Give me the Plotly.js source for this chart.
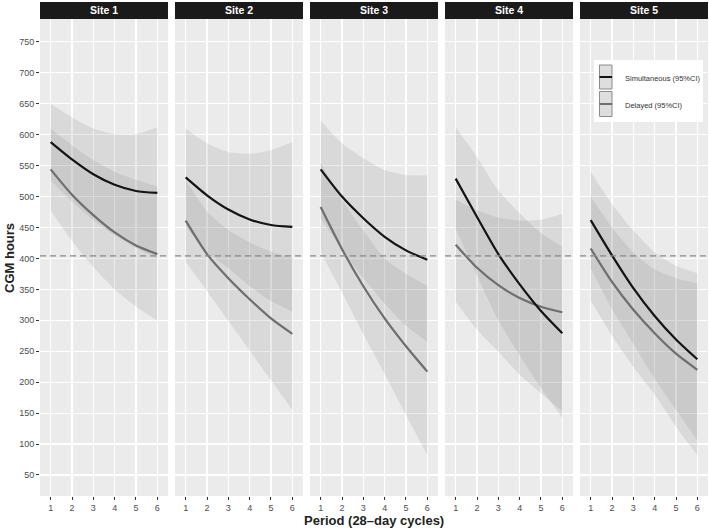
<!DOCTYPE html>
<html>
<head>
<meta charset="utf-8">
<script src="https://cdn.plot.ly/plotly-3.0.1.min.js"></script>
<style>
  html, body { margin: 0; padding: 0; background: #fff; }
  #plotDiv { width: 709px; height: 530px; }
</style>
</head>
<body>
<div id="plotDiv"></div>
<script>
// periodos y sitios
var periods = [1, 2, 3, 4, 5, 6];
var sites = ['Site 1', 'Site 2', 'Site 3', 'Site 4', 'Site 5'];
var yTicks = [50, 100, 150, 200, 250, 300, 350, 400, 450, 500, 550, 600, 650, 700, 750];
var threshold = 404;

// Simultaneous: media y banda 95%CI (una fila por sitio)
var simMean = [
  [588, 560, 536, 519, 509, 506],
  [531, 502, 479, 463, 454, 451],
  [544, 500, 465, 435, 413, 398],
  [529, 467, 407, 358, 315, 279],
  [462, 405, 352, 307, 269, 237]
];
var simUpper = [
  [650, 628, 610, 601, 601, 612],
  [610, 586, 572, 569, 575, 588],
  [623, 586, 562, 543, 535, 534],
  [612, 564, 510, 473, 441, 419],
  [540, 488, 445, 410, 388, 376]
];
var simLower = [
  [526, 492, 462, 437, 417, 400],
  [452, 410, 384, 355, 331, 314],
  [465, 414, 368, 327, 291, 265],
  [448, 372, 300, 243, 190, 142],
  [384, 318, 262, 205, 155, 106]
];

// Delayed: media y banda 95%CI
var delMean = [
  [544, 503, 470, 442, 421, 407],
  [461, 407, 368, 334, 303, 278],
  [483, 415, 355, 303, 258, 217],
  [422, 385, 357, 336, 322, 313],
  [416, 362, 317, 279, 246, 220]
];
var delUpper = [
  [610, 583, 559, 540, 527, 516],
  [527, 476, 446, 426, 411, 401],
  [555, 495, 445, 400, 375, 356],
  [495, 478, 466, 461, 463, 472],
  [500, 450, 410, 382, 368, 360]
];
var delLower = [
  [478, 428, 386, 350, 322, 300],
  [395, 347, 299, 251, 203, 155],
  [410, 345, 278, 213, 147, 82],
  [330, 285, 249, 212, 182, 153],
  [332, 275, 225, 180, 128, 82]
];

var bandFill = 'rgba(110,110,110,0.14)';
var simColor = '#141414';
var delColor = '#6e6e6e';

function px2x(p) { return (p - 40) / 668; }
function px2y(p) { return (496 - p) / 477; }

var data = [];
var layout = {
  width: 709, height: 530,
  margin: { l: 40, r: 1, t: 19, b: 34 },
  paper_bgcolor: '#ffffff',
  plot_bgcolor: '#EBEBEB',
  showlegend: false,
  font: { family: 'Liberation Sans, Arial, sans-serif', size: 9, color: '#4d4d4d' },
  shapes: [],
  annotations: []
};

var w = 0.1916, gap = (1 - 5 * w) / 4;

for (let i = 0; i < sites.length; i++) {
  var sfx = i === 0 ? '' : String(i + 1);
  var xa = 'x' + sfx, ya = 'y' + sfx;
  var line = { shape: 'spline', smoothing: 0.7, width: 0 };

  // bandas
  data.push({ x: periods, y: simLower[i], xaxis: xa, yaxis: ya, mode: 'lines', line: line, hoverinfo: 'skip' });
  data.push({ x: periods, y: simUpper[i], xaxis: xa, yaxis: ya, mode: 'lines', line: line, fill: 'tonexty', fillcolor: bandFill, hoverinfo: 'skip' });
  data.push({ x: periods, y: delLower[i], xaxis: xa, yaxis: ya, mode: 'lines', line: line, hoverinfo: 'skip' });
  data.push({ x: periods, y: delUpper[i], xaxis: xa, yaxis: ya, mode: 'lines', line: line, fill: 'tonexty', fillcolor: bandFill, hoverinfo: 'skip' });

  // medias
  data.push({ x: periods, y: delMean[i], xaxis: xa, yaxis: ya, mode: 'lines', name: 'Delayed (95%CI)',
    line: { shape: 'spline', smoothing: 0.7, width: 2.2, color: delColor } });
  data.push({ x: periods, y: simMean[i], xaxis: xa, yaxis: ya, mode: 'lines', name: 'Simultaneous (95%CI)',
    line: { shape: 'spline', smoothing: 0.7, width: 2.2, color: simColor } });

  var d0 = i * (w + gap), d1 = d0 + w;
  if (i === sites.length - 1) d1 = 1;

  layout['xaxis' + sfx] = {
    domain: [d0, d1], anchor: ya, range: [0.5, 6.5],
    tickvals: periods, ticks: 'outside', ticklen: 3, tickcolor: '#333', tickwidth: 1,
    showgrid: true, gridcolor: '#ffffff', gridwidth: 1.1,
    zeroline: false, showline: false, fixedrange: true,
    tickfont: { size: 9, color: '#4d4d4d' }
  };
  layout['yaxis' + sfx] = {
    anchor: xa, range: [16, 787],
    tickvals: yTicks, ticks: i === 0 ? 'outside' : '', ticklen: 3, tickcolor: '#333', tickwidth: 1,
    showticklabels: i === 0,
    showgrid: true, gridcolor: '#ffffff', gridwidth: 1.1,
    zeroline: false, showline: false, fixedrange: true,
    tickfont: { size: 9, color: '#4d4d4d' }
  };
  if (i > 0) layout['yaxis' + sfx].matches = 'y';

  // linea de referencia
  layout.shapes.push({
    type: 'line', xref: xa + ' domain', yref: ya, x0: 0, x1: 1, y0: threshold, y1: threshold,
    line: { color: '#8a8a8a', width: 1.3, dash: '6px,4px' }
  });

  // franja del titulo
  layout.shapes.push({
    type: 'rect', xref: 'paper', yref: 'paper', x0: d0, x1: d1, y0: 1, y1: 1 + 17 / 477,
    fillcolor: '#1a1a1a', line: { width: 0 }
  });
  layout.annotations.push({
    text: '<b>' + sites[i] + '</b>', xref: 'paper', yref: 'paper',
    x: (d0 + d1) / 2, y: 1 + 8.5 / 477, xanchor: 'center', yanchor: 'middle', showarrow: false,
    font: { size: 10.5, color: '#ffffff' }
  });
}

// leyenda manual
layout.shapes.push({ type: 'rect', xref: 'paper', yref: 'paper', x0: px2x(594), x1: px2x(703), y0: px2y(122), y1: px2y(60),
  fillcolor: '#ffffff', line: { width: 0 } });
var keys = [
  { top: 65, bot: 89, color: simColor, label: 'Simultaneous (95%CI)' },
  { top: 91.5, bot: 116.5, color: delColor, label: 'Delayed (95%CI)' }
];
keys.forEach(function (k) {
  layout.shapes.push({ type: 'rect', xref: 'paper', yref: 'paper', x0: px2x(599.5), x1: px2x(612), y0: px2y(k.bot), y1: px2y(k.top),
    fillcolor: '#dedede', line: { color: '#8c8c8c', width: 1 } });
  var mid = (k.top + k.bot) / 2;
  layout.shapes.push({ type: 'line', xref: 'paper', yref: 'paper', x0: px2x(599.5), x1: px2x(612), y0: px2y(mid), y1: px2y(mid),
    line: { color: k.color, width: 2 } });
  layout.annotations.push({ text: k.label, xref: 'paper', yref: 'paper', x: px2x(623), y: px2y(mid + 1),
    xanchor: 'left', yanchor: 'middle', showarrow: false, font: { size: 7.5, color: '#333333' } });
});

// titulos de ejes
layout.annotations.push({ text: '<b>Period (28\u2013day cycles)</b>', xref: 'paper', yref: 'paper',
  x: 0.5, y: px2y(520), xanchor: 'center', yanchor: 'middle', showarrow: false,
  font: { size: 13, color: '#222222' } });
layout.annotations.push({ text: '<b>CGM hours</b>', xref: 'paper', yref: 'paper',
  x: px2x(9), y: px2y(258), xanchor: 'center', yanchor: 'middle', showarrow: false, textangle: -90,
  font: { size: 13, color: '#222222' } });

Plotly.newPlot('plotDiv', data, layout, { displayModeBar: false, staticPlot: true });
</script>
</body>
</html>
